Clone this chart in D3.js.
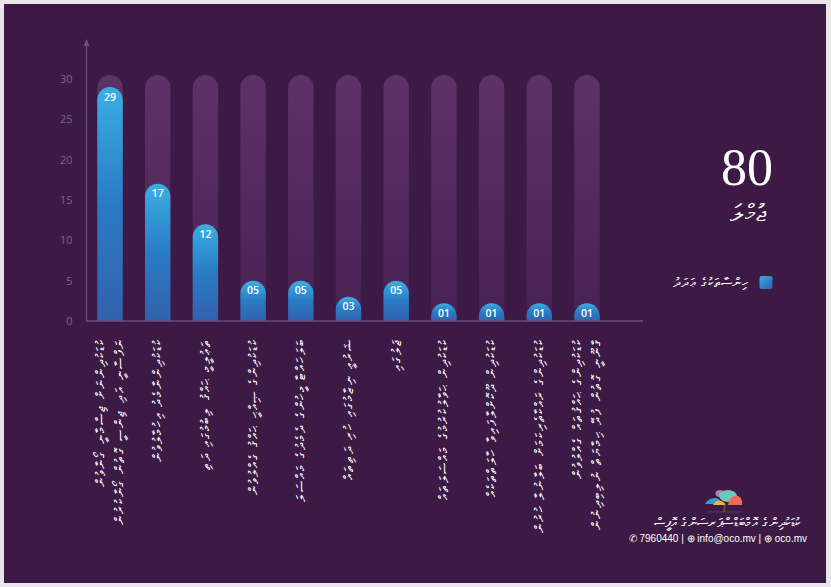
<!DOCTYPE html>
<html>
<head>
<meta charset="utf-8">
<script src="https://cdn.jsdelivr.net/npm/d3@7"></script>
<style>
  html, body { margin: 0; padding: 0; background: #ffffff; }
  svg { display: block; }
</style>
</head>
<body>
<svg id="chart" width="831" height="587"></svg>
<script>
// ---------------- data ----------------
const categories = [
  ["ކުޑަކުދިންނަށް ޖިސްމާނީ ގޯނާވުން", "ނަފްސާނީ އަދި ޖިންސީ ގޮތުން ގޯނާކުރުން"],
  ["ކުޑަކުދިންނާމެދު އިހުމާލުވުން"],
  ["ތަޢުލީމީ ޙައްޤު ލިބުމުގައި ދަތި"],
  ["ކުޑަކުދިންގެ ޞިއްޙީ ޙައްޤު ގެއްލުވުން"],
  ["ބަލަހައްޓާ މީހުންގެ ދެމެދުގެ މައްސަލަ"],
  ["ޝަރުޢީ ނިޒާމުގައި ހުރި ދަތިތައް"],
  ["ޖަލުގައި"],
  ["ކުޑަކުދިން ޙަވާލުކުރުމުގެ މައްސަލަތައް"],
  ["ކުޑަކުދިން ދޫކޮށްލާފައިވާ ހާލަތްތަކެއް"],
  ["ކުޑަކުދިންގެ ރައްކާތެރިކަމަށް ބަލާނުލާ ހުރުން"],
  ["ކުޑަކުދިންގެ ޙައްޤުތައް ގެއްލުވުން", "ޤާނޫނީ ގޮތުން ފުދޭ ޙިމާޔަތް ނުލިބިދިނުން"]
];
const values = [29, 17, 12, 5, 5, 3, 5, 1, 1, 1, 1];
const yTicks = [0, 5, 10, 15, 20, 25, 30];
const totalValue = 80;
const totalLabel = "ޖުމްލަ";
const legendLabel = "ހިންސާތަކުގެ ޢަދަދު";
const footerName = "ކުޑަކުދިންގެ އޮމްބަޑްސްޕަރސަންގެ އޮފީސް";
const footerContact = "✆ 7960440 | ⊕ info@oco.mv | ⊕ oco.mv";

// ---------------- drawing ----------------
const svg = d3.select("#chart");
const thaanaFont = "'Noto Sans', 'DejaVu Sans', sans-serif";

const defs = svg.append("defs");
const barGrad = defs.append("linearGradient").attr("id", "barGrad")
  .attr("x1", 0).attr("y1", 0).attr("x2", 0).attr("y2", 1);
barGrad.append("stop").attr("offset", "0%").attr("stop-color", "#39afe4");
barGrad.append("stop").attr("offset", "50%").attr("stop-color", "#2a7bc4");
barGrad.append("stop").attr("offset", "100%").attr("stop-color", "#3261ad");

const trackGrad = defs.append("linearGradient").attr("id", "trackGrad")
  .attr("x1", 0).attr("y1", 0).attr("x2", 0).attr("y2", 1);
trackGrad.append("stop").attr("offset", "0%").attr("stop-color", "#5c3364");
trackGrad.append("stop").attr("offset", "100%").attr("stop-color", "#482152");

const legGrad = defs.append("linearGradient").attr("id", "legGrad")
  .attr("x1", 0).attr("y1", 0).attr("x2", 1).attr("y2", 1);
legGrad.append("stop").attr("offset", "0%").attr("stop-color", "#3aa9e0");
legGrad.append("stop").attr("offset", "100%").attr("stop-color", "#2d64b0");

// background panel
svg.append("rect").attr("x", 0).attr("y", 0).attr("width", 831).attr("height", 587).attr("fill", "#e9e6ea");
svg.append("rect").attr("x", 4).attr("y", 4).attr("width", 822).attr("height", 579).attr("fill", "#3d1a45");

const baseY = 321;
const x = d3.scaleBand().domain(d3.range(values.length))
  .range([97.3, 599.7]).paddingInner(0.467).paddingOuter(0);
const y = d3.scaleLinear().domain([0, 30]).range([baseY, 79]);
const bw = x.bandwidth();
const r = bw / 2;

function capsule(x0, yTop, w, yBottom) {
  const rr = w / 2;
  return `M${x0},${yBottom} L${x0},${yTop + rr} A${rr},${rr} 0 0 1 ${x0 + w},${yTop + rr} L${x0 + w},${yBottom} Z`;
}

// tracks
svg.append("g").selectAll("path").data(values).join("path")
  .attr("d", (d, i) => capsule(x(i), y(30) - 4, bw, baseY))
  .attr("fill", "url(#trackGrad)");

// bars
const minH = r + 5;
svg.append("g").selectAll("path").data(values).join("path")
  .attr("d", (d, i) => capsule(x(i), Math.min(y(d), baseY - minH), bw, baseY))
  .attr("fill", "url(#barGrad)");

// value labels
svg.append("g").selectAll("text").data(values).join("text")
  .attr("x", (d, i) => x(i) + bw / 2)
  .attr("y", d => Math.min(y(d), baseY - minH) + 13.5)
  .attr("text-anchor", "middle")
  .attr("fill", "#ffffff")
  .attr("font-family", "'Open Sans', sans-serif")
  .attr("font-weight", 600)
  .attr("font-size", 10.5)
  .text(d => d3.format("02d")(d));

// y axis
const yAxis = d3.axisLeft(y).tickValues(yTicks).tickSize(0).tickPadding(14);
const gy = svg.append("g").attr("transform", "translate(86.5,0)").call(yAxis);
gy.select(".domain").remove();
gy.selectAll("text").attr("fill", "#7b6488").attr("font-family", "'Open Sans', sans-serif").attr("font-size", 11);

svg.append("line").attr("x1", 86.5).attr("x2", 86.5).attr("y1", 44).attr("y2", baseY)
  .attr("stroke", "#6d4d7c").attr("stroke-width", 1.2);
svg.append("path").attr("d", "M83.5,46 L86.5,39 L89.5,46 Z").attr("fill", "#6d4d7c");
svg.append("line").attr("x1", 86).attr("x2", 643).attr("y1", baseY).attr("y2", baseY)
  .attr("stroke", "#6d4d7c").attr("stroke-width", 1.5);

// x labels (rotated Thaana)
const lab = svg.append("g");
categories.forEach((lines, i) => {
  const n = lines.length;
  const cx = x(i) + bw / 2;
  const g = lab.append("g").attr("transform", `translate(${cx},338) rotate(-90)`);
  lines.forEach((ln, j) => {
    g.append("text")
      .attr("x", 0)
      .attr("y", (j - (n - 1) / 2) * 19 + 4.5)
      .attr("direction", "rtl")
      .attr("text-anchor", "start")
      .attr("fill", "#ffffff")
      .attr("font-family", thaanaFont)
      .attr("font-size", 12.5)
      .attr("letter-spacing", 2)
      .text(ln);
  });
});

// total
svg.append("text").attr("x", 747).attr("y", 185).attr("text-anchor", "middle")
  .attr("fill", "#ffffff").attr("font-family", "'Liberation Serif', serif").attr("font-size", 52)
  .text(totalValue);
svg.append("text").attr("x", 748).attr("y", 221).attr("text-anchor", "middle")
  .attr("direction", "rtl")
  .attr("fill", "#ffffff").attr("font-family", thaanaFont).attr("font-size", 24)
  .attr("letter-spacing", 1)
  .text(totalLabel);

// legend
svg.append("rect").attr("x", 759.5).attr("y", 276).attr("width", 13).attr("height", 13).attr("rx", 2)
  .attr("fill", "url(#legGrad)");
svg.append("text").attr("x", 749).attr("y", 287).attr("text-anchor", "start")
  .attr("direction", "rtl")
  .attr("fill", "#ffffff").attr("font-family", thaanaFont).attr("font-size", 13)
  .attr("letter-spacing", 0.8)
  .text(legendLabel);

// logo
const logo = svg.append("g").attr("transform", "translate(705,489)");
logo.append("line").attr("x1", 2).attr("x2", 36).attr("y1", 23).attr("y2", 23).attr("stroke", "#5a3a62").attr("stroke-width", 1);
logo.append("path").attr("d", "M18,23 L19,14 L21,14 L20,23 Z").attr("fill", "#6b4a3c");
logo.append("ellipse").attr("cx", 15).attr("cy", 4.5).attr("rx", 4.5).attr("ry", 3.5).attr("fill", "#a77fc2");
logo.append("ellipse").attr("cx", 23).attr("cy", 7).attr("rx", 9).attr("ry", 6).attr("fill", "#70c8b9");
logo.append("path").attr("d", "M0,15 Q4,8 11,9 Q16,10 16,15 Z").attr("fill", "#2aa2d6");
logo.append("path").attr("d", "M8,16 Q11,10 16,12 Q20,13 20,16 Z").attr("fill", "#f5b13a");
logo.append("path").attr("d", "M23,16 Q25,5 33,7 Q38,9 37,16 Z").attr("fill", "#ef6a5e");

// footer text
svg.append("text").attr("x", 801).attr("y", 527).attr("text-anchor", "start")
  .attr("direction", "rtl")
  .attr("fill", "#ffffff").attr("font-family", thaanaFont).attr("font-size", 13)
  .attr("letter-spacing", 0.6)
  .text(footerName);
svg.append("text").attr("x", 807).attr("y", 541.5).attr("text-anchor", "end")
  .attr("fill", "#ffffff").attr("font-family", "'Liberation Sans', Arial, sans-serif").attr("font-size", 10)
  .text(footerContact);
</script>
</body>
</html>
